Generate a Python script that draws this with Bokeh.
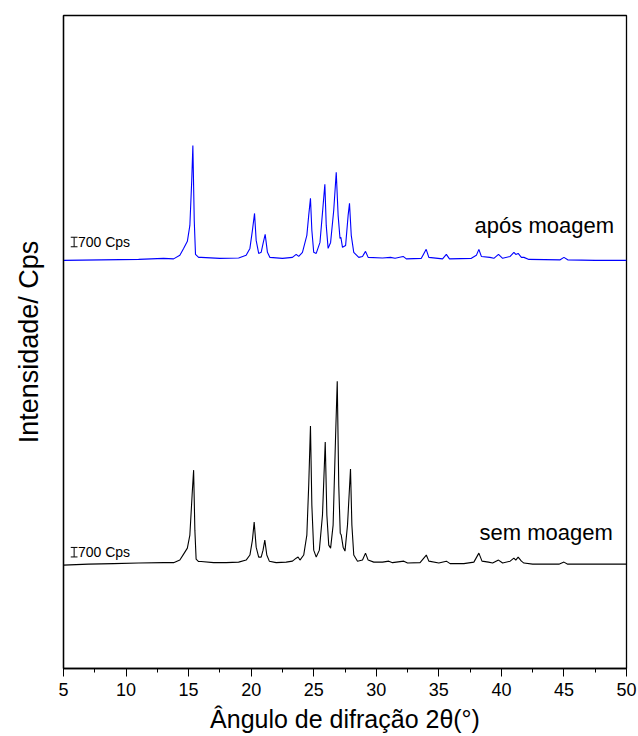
from bokeh.plotting import figure
from bokeh.models import Range1d, FixedTicker, Label
from bokeh.embed import file_html
from bokeh.resources import INLINE

# Diffractogram read-out: 2θ (degrees) and counts above background (Cps)
two_theta_sem = [5.0, 7.0, 9.0, 11.0, 13.0, 13.8, 14.3, 14.6, 14.9, 15.1, 15.28, 15.4, 15.5, 15.6,
                 15.8, 16.0, 17.0, 18.0, 19.0, 19.6, 19.9, 20.1, 20.24, 20.4, 20.6, 20.8, 20.95,
                 21.09, 21.25, 21.45, 22.0, 22.8, 23.3, 23.6, 23.75, 23.9, 24.2, 24.45, 24.6, 24.74,
                 24.85, 25.0, 25.2, 25.45, 25.7, 25.92, 26.05, 26.2, 26.35, 26.55, 26.75, 26.88,
                 27.0, 27.12, 27.2, 27.35, 27.5, 27.7, 27.94, 28.05, 28.2, 28.5, 28.9, 29.14, 29.35,
                 29.8, 30.5, 31.0, 31.3, 32.2, 32.5, 33.5, 34.0, 34.2, 35.0, 35.6, 35.9, 37.0, 37.8,
                 38.2, 38.45, 38.97, 39.3, 39.77, 40.1, 40.7, 41.0, 41.15, 41.34, 41.6, 41.8, 42.5,
                 44.6, 45.0, 45.3, 47.0, 50.0]
cps_sem = [0, 70, 110, 150, 180, 180, 370, 810, 1250, 2210, 5150, 6980, 2570, 440,
           260, 260, 180, 180, 220, 370, 740, 1840, 3160, 1320, 590, 590, 1100,
           1840, 740, 290, 180, 220, 290, 510, 590, 370, 740, 2210, 5880, 10220,
           4410, 1100, 590, 1100, 3680, 9040, 3680, 1470, 1250, 2940, 9560, 13520,
           5880, 2350, 2210, 1320, 1030, 2940, 7060, 2940, 740, 290, 370, 880, 370,
           220, 220, 290, 180, 290, 150, 180, 740, 290, 150, 290, 110, 110, 220,
           880, 290, 220, 150, 370, 150, 290, 510, 370, 590, 290, 150, 70,
           70, 220, 70, 70, 70]

two_theta_apos = [5.0, 8.0, 11.0, 13.0, 13.8, 14.3, 14.6, 14.9, 15.1, 15.25, 15.34, 15.45, 15.55,
                  15.8, 16.0, 17.5, 19.0, 19.6, 19.9, 20.1, 20.27, 20.4, 20.6, 20.8, 20.97, 21.12,
                  21.3, 21.5, 22.5, 23.3, 23.6, 23.8, 24.1, 24.45, 24.6, 24.74, 24.85, 25.0, 25.2,
                  25.5, 25.75, 25.89, 26.0, 26.15, 26.35, 26.6, 26.8, 26.95, 27.1, 27.17, 27.3,
                  27.55, 27.75, 27.86, 28.0, 28.2, 28.6, 28.9, 29.14, 29.35, 30.5, 31.14, 31.5,
                  32.15, 32.4, 33.6, 33.99, 34.2, 35.3, 35.6, 35.85, 37.6, 38.0, 38.2, 38.4, 39.08,
                  39.4, 39.77, 40.1, 40.7, 41.0, 41.15, 41.34, 41.6, 41.8, 42.2, 44.7, 45.0, 45.3,
                  47.5, 50.0]
cps_apos = [0, 40, 70, 150, 110, 370, 880, 1400, 2570, 5880, 8450, 2940, 440,
            220, 220, 150, 180, 370, 880, 2210, 3450, 1470, 510, 590, 1320, 1910,
            590, 220, 150, 220, 440, 290, 590, 1840, 3310, 4560, 2210, 590, 510,
            1320, 4040, 5590, 2570, 880, 1320, 3680, 6470, 3310, 1620, 1690, 960,
            1100, 3310, 4190, 1840, 590, 220, 290, 660, 220, 180, 220, 150,
            290, 110, 150, 810, 220, 110, 440, 110, 150, 370, 810, 290, 220,
            150, 440, 150, 290, 590, 440, 510, 220, 220, 70, 40, 220, 40,
            0, 0]

# vertical stacking of the two patterns
offset_sem = 7600
offset_apos = 30000
scale_bar_cps = 700

x_ticks = [5, 10, 15, 20, 25, 30, 35, 40, 45, 50]
x_minor = [7.5, 12.5, 17.5, 22.5, 27.5, 32.5, 37.5, 42.5, 47.5]

FONT = "Liberation Sans"

p = figure(width=638, height=736, x_range=Range1d(5, 50), y_range=Range1d(0, 48000),
           output_backend="svg", toolbar_location=None,
           min_border_left=63, min_border_right=12, min_border_top=15, min_border_bottom=68)
p.background_fill_color = "white"
p.border_fill_color = "white"
p.outline_line_color = "black"
p.outline_line_width = 1.3
p.xgrid.visible = False
p.ygrid.visible = False

p.line(two_theta_sem, [c + offset_sem for c in cps_sem],
       line_color="black", line_width=1.1)
p.line(two_theta_apos, [c + offset_apos for c in cps_apos],
       line_color="#0000ff", line_width=1.1)

# 700 Cps scale bars
bar_x = 5.85
cap = 0.27
for base in (offset_sem + 600, offset_apos + 1000):
    top = base + scale_bar_cps
    p.segment(x0=[bar_x, bar_x - cap, bar_x - cap], y0=[base, base, top],
              x1=[bar_x, bar_x + cap, bar_x + cap], y1=[top, base, top],
              line_color="black", line_width=1)
    p.add_layout(Label(x=bar_x + 0.3, y=base + scale_bar_cps / 2, text=f"{scale_bar_cps} Cps",
                       text_font=FONT, text_font_size="14px", text_baseline="middle",
                       text_color="black"))

p.add_layout(Label(x=49.0, y=32560, text="após moagem", text_font=FONT, text_font_size="22px",
                   text_align="right", text_baseline="middle", text_color="black"))
p.add_layout(Label(x=48.9, y=10000, text="sem moagem", text_font=FONT, text_font_size="22px",
                   text_align="right", text_baseline="middle", text_color="black"))

xa = p.xaxis[0]
xa.ticker = FixedTicker(ticks=x_ticks, minor_ticks=x_minor)
xa.major_tick_in = 0
xa.major_tick_out = 8
xa.minor_tick_in = 0
xa.minor_tick_out = 4
xa.major_tick_line_color = "black"
xa.minor_tick_line_color = "black"
xa.axis_line_color = "black"
xa.major_label_text_font = FONT
xa.major_label_text_font_size = "18px"
xa.major_label_text_color = "black"
xa.major_label_standoff = 6
xa.axis_label = "Ângulo de difração 2θ(°)"
xa.axis_label_text_font = FONT
xa.axis_label_text_font_size = "25px"
xa.axis_label_text_font_style = "normal"
xa.axis_label_text_color = "black"
xa.axis_label_standoff = 6
xa.axis_line_width = 1.3

ya = p.yaxis[0]
ya.ticker = FixedTicker(ticks=[])
ya.major_tick_out = 0
ya.minor_tick_out = 0
ya.axis_line_color = "black"
ya.axis_label = "Intensidade/ Cps"
ya.axis_label_text_font = FONT
ya.axis_label_text_font_size = "27px"
ya.axis_label_text_font_style = "normal"
ya.axis_label_text_color = "black"
ya.axis_label_standoff = 20
ya.axis_line_width = 1.3

open("out.html", "w").write(file_html(p, INLINE))
